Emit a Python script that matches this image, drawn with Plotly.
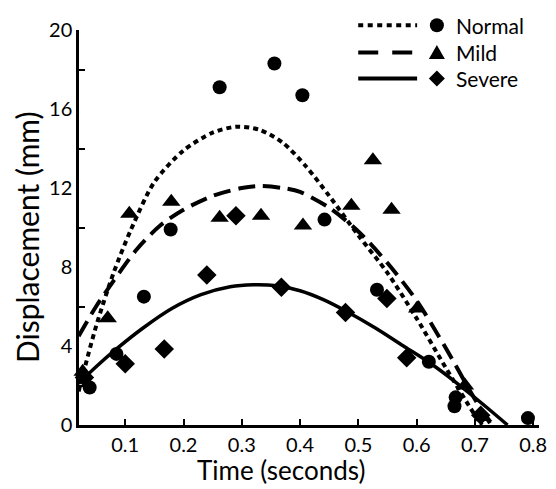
import plotly.graph_objects as go

# ---------------- data ----------------
series_names = ["Normal", "Mild", "Severe"]

normal_t = [0.039, 0.085, 0.132, 0.178, 0.262, 0.356, 0.404, 0.442, 0.532, 0.621, 0.667, 0.665, 0.791]
normal_d = [1.9, 3.6, 6.5, 9.9, 17.1, 18.3, 16.7, 10.4, 6.85, 3.2, 1.4, 0.95, 0.35]

mild_t = [0.027, 0.070, 0.107, 0.179, 0.262, 0.333, 0.405, 0.488, 0.525, 0.557, 0.601, 0.683, 0.714]
mild_d = [2.7, 5.4, 10.7, 11.3, 10.5, 10.6, 10.1, 11.1, 13.4, 10.9, 5.9, 2.0, 0.4]

severe_t = [0.030, 0.100, 0.167, 0.240, 0.290, 0.368, 0.478, 0.549, 0.583, 0.710]
severe_d = [2.4, 3.1, 3.85, 7.6, 10.6, 6.97, 5.7, 6.4, 3.4, 0.5]

# trend curves
normal_fit_t = [0.02, 0.05, 0.08, 0.11, 0.15, 0.20, 0.25, 0.29, 0.33, 0.37, 0.41, 0.45, 0.50, 0.55, 0.60, 0.65, 0.70, 0.712]
normal_fit_d = [1.7, 5.0, 7.7, 9.9, 12.3, 13.9, 14.8, 15.1, 14.95, 14.3, 13.1, 11.6, 9.6, 7.7, 5.4, 2.9, 0.5, 0.0]

mild_fit_t = [0.02, 0.05, 0.08, 0.12, 0.16, 0.20, 0.25, 0.30, 0.33, 0.37, 0.40, 0.45, 0.50, 0.55, 0.60, 0.65, 0.70, 0.728]
mild_fit_d = [4.5, 6.0, 7.3, 8.9, 10.1, 10.9, 11.6, 12.0, 12.1, 12.0, 11.8, 11.0, 9.8, 8.2, 6.3, 3.9, 1.3, 0.0]

severe_fit_t = [0.02, 0.05, 0.085, 0.13, 0.18, 0.23, 0.28, 0.32, 0.36, 0.40, 0.44, 0.48, 0.53, 0.58, 0.62, 0.67, 0.72, 0.756]
severe_fit_d = [2.1, 2.95, 3.85, 4.9, 5.9, 6.6, 7.0, 7.1, 7.05, 6.8, 6.35, 5.75, 4.9, 3.95, 3.2, 2.1, 0.9, 0.0]

x_tick_vals = [0.1, 0.2, 0.3, 0.4, 0.5, 0.6, 0.7, 0.8]
x_tick_text = ["0.1", "0.2", "0.3", "0.4", "0.5", "0.6", "0.7", "0.8"]
y_tick_vals = [0, 4, 8, 12, 16, 20]
y_tick_text = ["0", "4", "8", "12", "16", "20"]
y_minor_vals = [2, 6, 10, 14, 18]

x_title = "Time (seconds)"
y_title = "Displacement (mm)"

# ---------------- styling ----------------
FONT = "Lato"
INK = "black"
dashes = ["5px,4px", "17px,8px", "solid"]
legend_dashes = ["5px,4.5px", "20px,14px", "solid"]
symbols = ["circle", "triangle-up", "diamond"]
msizes = [14, 16, 15]

fits = [(normal_fit_t, normal_fit_d), (mild_fit_t, mild_fit_d), (severe_fit_t, severe_fit_d)]
pts = [(normal_t, normal_d), (mild_t, mild_d), (severe_t, severe_d)]

fig = go.Figure()

for (ft, fd), dash in zip(fits, dashes):
    fig.add_trace(go.Scatter(
        x=ft, y=fd, mode="lines", showlegend=False, hoverinfo="skip",
        line=dict(color=INK, width=4 if dash != "solid" else 3.5, dash=dash,
                  shape="spline", smoothing=0.8),
        cliponaxis=True))

for (pt, pd_), sym, ms in zip(pts, symbols, msizes):
    fig.add_trace(go.Scatter(
        x=pt, y=pd_, mode="markers", showlegend=False,
        marker=dict(symbol=sym, size=ms, color=INK, line=dict(width=0)),
        cliponaxis=False))

# ---------------- custom legend (line sample, marker, text) ----------------
leg_rows_y = [1.012, 0.943, 0.877]      # paper coords of each row
leg_line_x0, leg_line_x1 = 0.607, 0.735
leg_marker_x = 0.778
leg_text_x = 0.815
leg_paths = [
    None,
    "M -8,-6.5 L 8,-6.5 L 0,7.5 Z",
    "M -8,0 L 0,8 L 8,0 L 0,-8 Z",
]

for i, name in enumerate(series_names):
    yy = leg_rows_y[i]
    fig.add_shape(type="line", xref="paper", yref="paper",
                  x0=leg_line_x0, x1=leg_line_x1, y0=yy, y1=yy,
                  line=dict(color=INK, width=4, dash=legend_dashes[i]))
    if leg_paths[i] is None:
        fig.add_shape(type="circle", xref="paper", yref="paper",
                      xsizemode="pixel", ysizemode="pixel",
                      xanchor=leg_marker_x, yanchor=yy,
                      x0=-7, x1=7, y0=-7, y1=7,
                      fillcolor=INK, line=dict(width=0))
    else:
        fig.add_shape(type="path", xref="paper", yref="paper",
                      xsizemode="pixel", ysizemode="pixel",
                      xanchor=leg_marker_x, yanchor=yy,
                      path=leg_paths[i], fillcolor=INK, line=dict(width=0))
    fig.add_annotation(xref="paper", yref="paper", x=leg_text_x, y=yy,
                       text=name, showarrow=False, xanchor="left", yanchor="middle",
                       font=dict(family=FONT, size=21, color=INK))

# axis titles (placed as in the reference, slightly off-centre)
fig.add_annotation(xref="paper", yref="paper", x=0.44, y=-0.113,
                   text=x_title, showarrow=False, xanchor="center", yanchor="middle",
                   font=dict(family=FONT, size=26, color=INK))
fig.add_annotation(xref="paper", yref="paper", x=-0.113, y=0.476,
                   text=y_title, showarrow=False, textangle=-90,
                   xanchor="center", yanchor="middle",
                   font=dict(family=FONT, size=30, color=INK))

# the page body has an 8px margin, so the figure is shifted by 8px
fig.update_layout(
    width=548, height=481,
    margin=dict(l=71, r=9, t=18, b=64),
    paper_bgcolor="white", plot_bgcolor="white",
    showlegend=False,
    font=dict(family=FONT, color=INK),
    xaxis=dict(
        range=[0.0207, 0.81], tickvals=x_tick_vals, ticktext=x_tick_text,
        ticks="inside", ticklen=6, tickwidth=1.5, tickcolor=INK,
        showline=True, linecolor=INK, linewidth=2.5, showgrid=False, zeroline=False,
        tickfont=dict(family=FONT, size=20, color=INK),
    ),
    yaxis=dict(
        range=[0, 20], tickvals=y_tick_vals, ticktext=y_tick_text,
        ticks="", showline=True, linecolor=INK, linewidth=2.5, showgrid=False, zeroline=False,
        minor=dict(tickvals=y_minor_vals, ticks="inside", ticklen=6, tickwidth=1.5, tickcolor=INK,
                   showgrid=False),
        tickfont=dict(family=FONT, size=20, color=INK),
    ),
)

fig.write_html("out.html")
